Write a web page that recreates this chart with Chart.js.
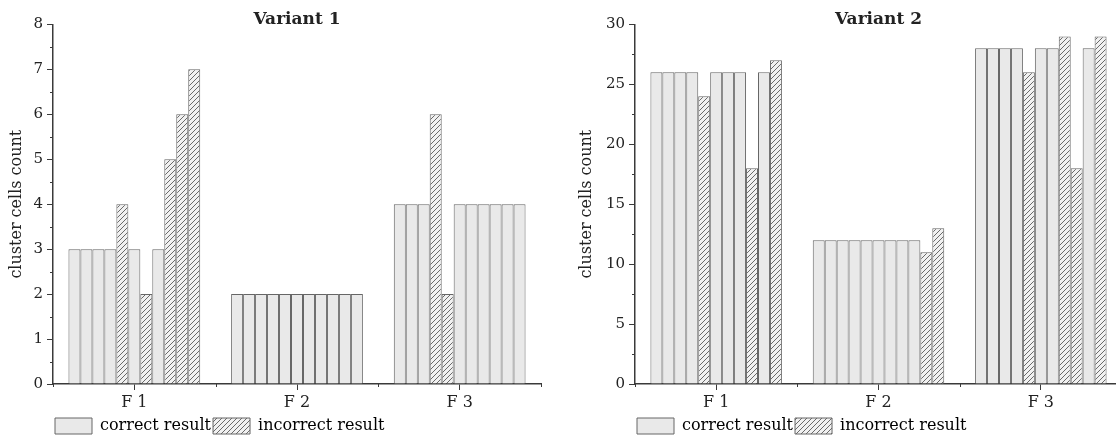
<!DOCTYPE html>
<html>
<head>
<meta charset="utf-8">
<script src="https://cdn.jsdelivr.net/npm/chart.js@4"></script>
<style>
  html, body { margin: 0; padding: 0; background: #fff; }
  #wrap { position: relative; width: 1116px; height: 437px; overflow: hidden; }
  #box1 { position: absolute; left: 0; top: 0; width: 556px; height: 437px; }
  #box2 { position: absolute; left: 570px; top: 0; width: 560px; height: 437px; }
</style>
</head>
<body>
<div id="wrap">
  <div id="box1"><canvas id="chart1"></canvas></div>
  <div id="box2"><canvas id="chart2"></canvas></div>
</div>
<script>
const categories = ["F 1", "F 2", "F 3"];

// Variant 1, 11 bars per group
const v1F1 = [3, 3, 3, 3, 4, 3, 2, 3, 5, 6, 7];
const v1F2 = [2, 2, 2, 2, 2, 2, 2, 2, 2, 2, 2];
const v1F3 = [4, 4, 4, 6, 2, 4, 4, 4, 4, 4, 4];
// 1 = incorrect result
const v1F1Wrong = [0, 0, 0, 0, 1, 0, 1, 0, 1, 1, 1];
const v1F2Wrong = [0, 0, 0, 0, 0, 0, 0, 0, 0, 0, 0];
const v1F3Wrong = [0, 0, 0, 1, 1, 0, 0, 0, 0, 0, 0];

// Variant 2
const v2F1 = [26, 26, 26, 26, 24, 26, 26, 26, 18, 26, 27];
const v2F2 = [12, 12, 12, 12, 12, 12, 12, 12, 12, 11, 13];
const v2F3 = [28, 28, 28, 28, 26, 28, 28, 29, 18, 28, 29];
const v2F1Wrong = [0, 0, 0, 0, 1, 0, 0, 0, 1, 0, 1];
const v2F2Wrong = [0, 0, 0, 0, 0, 0, 0, 0, 0, 1, 1];
const v2F3Wrong = [0, 0, 0, 0, 1, 0, 0, 1, 1, 0, 1];

const v1Ticks = [0, 1, 2, 3, 4, 5, 6, 7, 8];
const v2Ticks = [0, 5, 10, 15, 20, 25, 30];

const FONT = "'DejaVu Serif', 'Liberation Serif', serif";
const AXIS = "#3a3a3a";
const EDGE = "#666";
const FILL = "#e9e9e9";

function makeHatch() {
  const c = document.createElement("canvas");
  c.width = 5;
  c.height = 5;
  const g = c.getContext("2d");
  g.fillStyle = "#f1f1f1";
  g.fillRect(0, 0, 5, 5);
  g.strokeStyle = "#6a6a6a";
  g.lineWidth = 1;
  g.beginPath();
  g.moveTo(-1, 6); g.lineTo(6, -1);
  g.moveTo(-1, 1); g.lineTo(1, -1);
  g.moveTo(4, 6); g.lineTo(6, 4);
  g.stroke();
  return g.createPattern(c, "repeat");
}
const hatch = makeHatch();

function buildDatasets(groups, wrongs) {
  const sets = [];
  for (let i = 0; i < groups[0].length; i++) {
    sets.push({
      data: groups.map(g => g[i]),
      backgroundColor: wrongs.map(w => (w[i] ? hatch : FILL)),
      borderColor: EDGE,
      borderWidth: 1,
      barPercentage: 1,
      categoryPercentage: 0.81,
    });
  }
  return sets;
}

const minorTicks = {
  id: "minorTicks",
  afterDraw(chart, args, opts) {
    const { ctx, scales: { x, y } } = chart;
    ctx.save();
    ctx.strokeStyle = AXIS;
    ctx.lineWidth = 1;
    ctx.beginPath();
    for (let k = 0; k <= categories.length; k++) {
      const px = Math.round(x.getPixelForValue(k - 0.5)) + 0.5;
      ctx.moveTo(px, y.bottom);
      ctx.lineTo(px, y.bottom + 3);
    }
    const step = opts.step;
    for (let v = step / 2; v < y.max; v += step) {
      const py = Math.round(y.getPixelForValue(v)) + 0.5;
      ctx.moveTo(x.left, py);
      ctx.lineTo(x.left - 3, py);
    }
    ctx.stroke();
    ctx.restore();
  },
};

function makeChart(id, title, groups, wrongs, tickVals, step, axisWidth, padRight) {
  return new Chart(document.getElementById(id), {
    type: "bar",
    data: { labels: categories, datasets: buildDatasets(groups, wrongs) },
    plugins: [minorTicks],
    options: {
      responsive: true,
      maintainAspectRatio: false,
      animation: false,
      layout: { padding: { left: 0, right: padRight, top: 4, bottom: -7 } },
      plugins: {
        minorTicks: { step: step },
        tooltip: { enabled: false },
        title: {
          display: true,
          text: title,
          fullSize: false,
          color: "#222",
          font: { family: FONT, size: 17, weight: "bold" },
          padding: { top: 5, bottom: -5 },
        },
        legend: {
          display: true,
          position: "bottom",
          align: "start",
          fullSize: false,
          labels: {
            boxWidth: 37,
            boxHeight: 16,
            padding: 2,
            color: "#222",
            font: { family: FONT, size: 16 },
            generateLabels: () => [
              { text: "correct result", fillStyle: FILL, strokeStyle: EDGE, lineWidth: 1, datasetIndex: 0 },
              { text: "incorrect result", fillStyle: hatch, strokeStyle: EDGE, lineWidth: 1, datasetIndex: 1 },
            ],
          },
        },
      },
      scales: {
        x: {
          offset: true,
          grid: { offset: false, drawOnChartArea: false, tickLength: 6, color: AXIS, tickColor: AXIS },
          border: { color: AXIS, width: 1.5 },
          ticks: { color: "#222", font: { family: FONT, size: 16, lineHeight: 1 }, padding: 5 },
        },
        y: {
          min: 0,
          max: tickVals[tickVals.length - 1],
          afterBuildTicks: s => { s.ticks = tickVals.map(v => ({ value: v })); },
          afterFit: s => { s.width = axisWidth; },
          grid: { drawOnChartArea: false, tickLength: 6, color: AXIS, tickColor: AXIS },
          border: { color: AXIS, width: 1.5 },
          ticks: { color: "#222", font: { family: FONT, size: 15 }, padding: 4 },
          title: {
            display: true,
            text: "cluster cells count",
            color: "#222",
            font: { family: FONT, size: 16 },
            padding: { top: 7, bottom: 0 },
          },
        },
      },
    },
  });
}

makeChart("chart1", "Variant 1", [v1F1, v1F2, v1F3], [v1F1Wrong, v1F2Wrong, v1F3Wrong], v1Ticks, 1, 53, 15);
makeChart("chart2", "Variant 2", [v2F1, v2F2, v2F3], [v2F1Wrong, v2F2Wrong, v2F3Wrong], v2Ticks, 5, 65, 8);
</script>
</body>
</html>
